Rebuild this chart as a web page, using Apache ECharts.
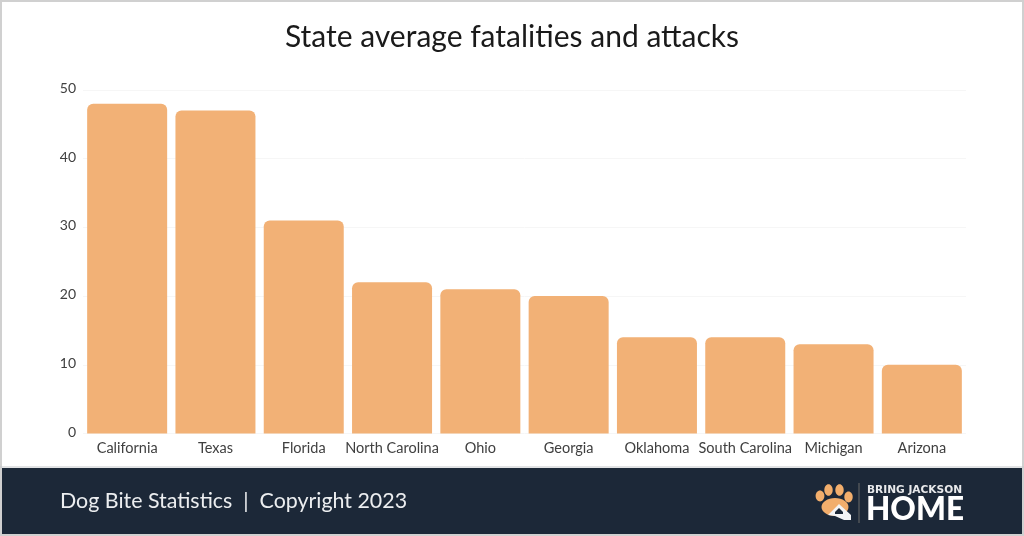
<!DOCTYPE html>
<html><head><meta charset="utf-8">
<style>html,body{margin:0;padding:0;background:#fff}#c{width:1024px;height:536px}</style>
<script src="https://cdn.jsdelivr.net/npm/echarts@6/dist/echarts.min.js"></script></head>
<body><div id="c"></div>
<script>
const chartTitle = 'State average fatalities and attacks';
const categories = ['California','Texas','Florida','North Carolina','Ohio','Georgia','Oklahoma','South Carolina','Michigan','Arizona'];
const values = [48,47,31,22,21,20,14,14,13,10];
const footerText = 'Dog Bite Statistics  |  Copyright 2023';
const logoTop = 'BRING JACKSON';
const logoBottom = 'HOME';
const font = 'Lato';
const chart = echarts.init(document.getElementById('c'), null, {renderer:'canvas'});
const paw = '#f2ae6c', navy = '#1c2838';
chart.setOption({
  animation:false,
  backgroundColor:'#fff',
  title:{text:chartTitle,left:507,top:17.5,textAlign:'center',textStyle:{fontFamily:font,fontWeight:400,fontSize:30,color:'#1a1a1a'}},
  grid:{left:83,right:58,top:90,height:343.5,containLabel:false},
  xAxis:{type:'category',data:categories,axisLine:{show:false},axisTick:{show:false},
    axisLabel:{interval:0,margin:7,fontFamily:font,fontSize:14.5,color:'#404040',hideOverlap:false}},
  yAxis:{type:'value',min:0,max:50,interval:10,axisLine:{show:false},axisTick:{show:false},
    axisLabel:{margin:7,formatter:'{a|{value}}',rich:{a:{fontFamily:font,fontSize:14,color:'#404040',lineHeight:14,padding:[0,0,3,0]}}},
    splitLine:{lineStyle:{color:'#f6f6f6',width:1}}},
  series:[{type:'bar',data:values,barCategoryGap:'9.4%',itemStyle:{color:'#f2b176',borderRadius:[6,6,0,0]}}],
  graphic:[
    {type:'rect',z:10,shape:{x:1,y:1,width:1022,height:534},style:{fill:'none',stroke:'#d0d0d0',lineWidth:2}},
    {type:'rect',z:9,shape:{x:2,y:468,width:1020,height:66},style:{fill:navy}},
    {type:'line',z:10,shape:{x1:0,y1:467,x2:1024,y2:467},style:{stroke:'#c4c6c9',lineWidth:1}},
    {type:'text',z:11,x:60,y:501,style:{text:footerText,fontFamily:font,fontSize:21.4,fill:'#eceef0',verticalAlign:'middle'}},
    {type:'ellipse',z:11,shape:{cx:820,cy:496,rx:4.4,ry:5.4},style:{fill:paw}},
    {type:'ellipse',z:11,shape:{cx:828.5,cy:490,rx:4.2,ry:5.8},style:{fill:paw}},
    {type:'ellipse',z:11,shape:{cx:839.5,cy:490,rx:4.2,ry:5.8},style:{fill:paw}},
    {type:'ellipse',z:11,shape:{cx:848.5,cy:497,rx:4.2,ry:5.4},style:{fill:paw}},
    {type:'ellipse',z:11,shape:{cx:835,cy:507,rx:13.5,ry:9},style:{fill:paw}},
    {type:'polygon',z:12,shape:{points:[[828,515],[839,504],[851,515],[851,520],[844,520],[835,516]]},style:{fill:'#f3f4f5'}},
    {type:'polygon',z:13,shape:{points:[[835,512],[839,508],[843,512],[843,514],[835,514]]},style:{fill:navy}},
    {type:'line',z:11,shape:{x1:859,y1:483,x2:859,y2:523},style:{stroke:'#6a6a68',lineWidth:1}},
    {type:'text',z:11,x:867,y:490.5,style:{text:logoTop,fontFamily:'DejaVu Sans',fontWeight:700,fontSize:10.6,fill:'#e8e9eb',verticalAlign:'middle'}},
    {type:'text',z:11,x:866,y:509.5,style:{text:logoBottom,fontFamily:font,fontWeight:900,fontSize:31.5,fill:'#ffffff',verticalAlign:'middle'}}
  ]
});
</script></body></html>
